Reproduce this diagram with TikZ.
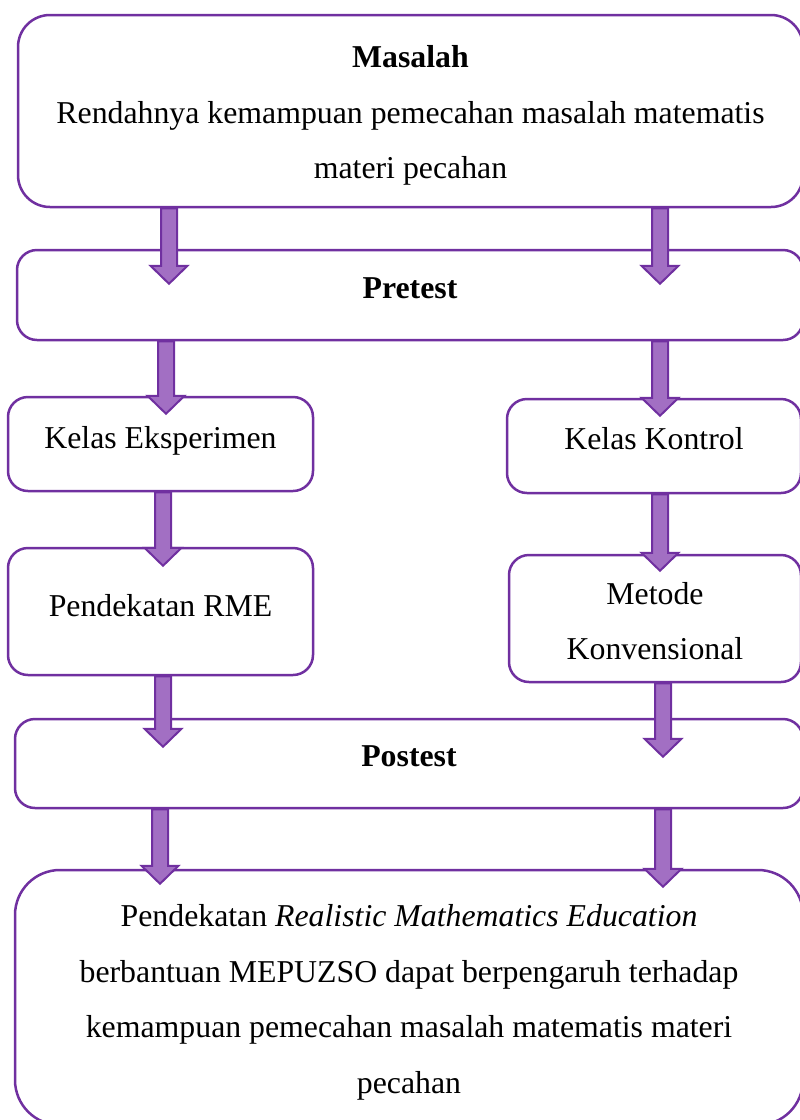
\documentclass[tikz,border=0pt]{standalone}
\usepackage{fontspec}
\setmainfont{Liberation Serif}
\usetikzlibrary{
  positioning,
  calc,
}
\definecolor{border}{HTML}{7030A0}
\definecolor{arrowFill}{HTML}{A26FC3}
\definecolor{textCol}{HTML}{000000}
\tikzset{
  flowbox/.style={
    rectangle, rounded corners=20pt, draw=border, fill=white,
    line width=2.5pt, align=center, text=textCol, inner sep=0pt,
    font=\fontsize{31.8}{55.5}\selectfont,
  },
  bigbox/.style={
    flowbox, rounded corners=32pt,
  },
  blockarrow/.style={
    draw=border, fill=arrowFill, line width=2pt,
    to path={
      let \p1=(\tikztostart), \p2=(\tikztotarget) in
      (\x1-8pt,\y1) -- (\x1-8pt,\y2+18pt) -- (\x1-18.5pt,\y2+18pt)
      -- (\x1,\y2) -- (\x1+18.5pt,\y2+18pt) -- (\x1+8pt,\y2+18pt)
      -- (\x1+8pt,\y1) -- cycle
    },
  },
}
\begin{document}
\begin{tikzpicture}[x=1pt, y=-1pt]

  \useasboundingbox (0,0) rectangle (800,1120);
  \clip (0,0) rectangle (800,1120);

  % Boxes
  \node[bigbox, minimum width=785pt, minimum height=192pt, text height=142pt] (masalah) at (410.5, 111)
    {\textbf{Masalah}\\Rendahnya kemampuan pemecahan masalah matematis\\materi pecahan};
  \node[flowbox, minimum width=786pt, minimum height=90pt, text depth=14pt] (pretest) at (410, 295) {\textbf{Pretest}};

  \node[flowbox, minimum width=305pt, minimum height=94pt, text depth=14pt] (eks) at (160.5, 444) {Kelas Eksperimen};
  \node[flowbox, minimum width=305pt, minimum height=127pt, text depth=13pt] (rme) at (160.5, 611.5) {Pendekatan RME};

  \node[flowbox, minimum width=294pt, minimum height=94pt, text depth=16pt] (kontrol) at (654, 446) {Kelas Kontrol};
  \node[flowbox, minimum width=292pt, minimum height=127pt, text height=83pt] (metode) at (655, 618.5) {Metode\\Konvensional};

  \node[flowbox, minimum width=788pt, minimum height=89pt, text depth=14pt] (postest) at (409, 763.5) {\textbf{Postest}};
  \node[bigbox, rounded corners=45pt, minimum width=788pt, minimum height=255pt, text height=198pt] (hasil) at (409, 997.5)
    {Pendekatan \textit{Realistic Mathematics Education}\\
     berbantuan MEPUZSO dapat berpengaruh terhadap\\
     kemampuan pemecahan masalah matematis materi\\
     pecahan};

  % Arrows, left column
  \draw[blockarrow] (masalah.south -| 169,0) to ($(pretest.north -| 169,0)+(0,35)$);
  \draw[blockarrow] (pretest.south -| 166,0) to ($(eks.north -| 166,0)+(0,18)$);
  \draw[blockarrow] (eks.south -| 163,0) to ($(rme.north -| 163,0)+(0,19)$);
  \draw[blockarrow] (rme.south -| 163,0) to ($(postest.north -| 163,0)+(0,29)$);
  \draw[blockarrow] (postest.south -| 160,0) to ($(hasil.north -| 160,0)+(0,15)$);

  % Arrows, right column
  \draw[blockarrow] (masalah.south -| 660,0) to ($(pretest.north -| 660,0)+(0,35)$);
  \draw[blockarrow] (pretest.south -| 660,0) to ($(kontrol.north -| 660,0)+(0,18)$);
  \draw[blockarrow] (kontrol.south -| 660,0) to ($(metode.north -| 660,0)+(0,17)$);
  \draw[blockarrow] (metode.south -| 663,0) to ($(postest.north -| 663,0)+(0,39)$);
  \draw[blockarrow] (postest.south -| 663,0) to ($(hasil.north -| 663,0)+(0,18)$);

\end{tikzpicture}
\end{document}
